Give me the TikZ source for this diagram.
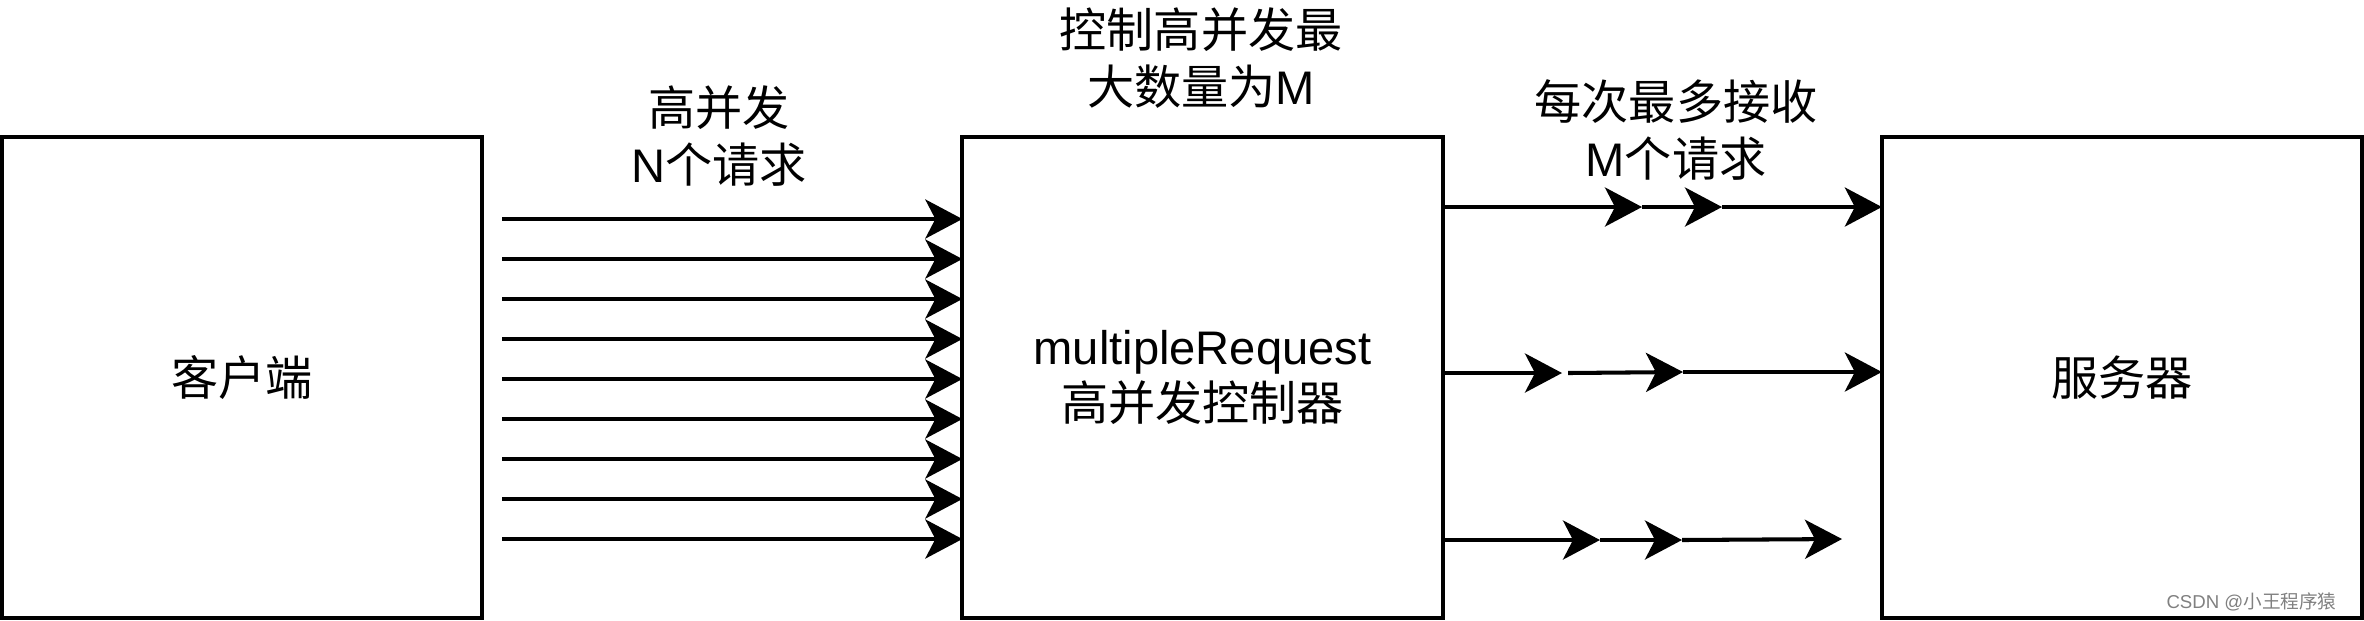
\documentclass[tikz,border=0pt]{standalone}
\usepackage{fontspec}
\setmainfont{Liberation Sans}
\newfontfamily\cjk{Noto Sans CJK SC}
\usetikzlibrary{arrows.meta}

\tikzset{
  box/.style={draw, line width=1.15pt, minimum width=4.8cm, minimum height=4.81cm, inner sep=0pt, outer sep=0pt, align=center},
  req/.style={line width=1.15pt, -{Stealth[length=0.37cm, width=0.39cm, inset=0.1cm]}},
  lbl/.style={align=center}
}

\begin{document}
\begin{tikzpicture}[x=0.01cm, y=-0.01cm, font=\fontsize{13.4pt}{16pt}\selectfont]
\useasboundingbox (0,0) rectangle (2364,620);
\node[box] (client) at (242,377.5) {\cjk 客户端};
\node[box] (ctrl) at (1202.5,377.5) {multipleRequest\\{\cjk 高并发控制器}};
\node[box] (server) at (2122,377.5) {\cjk 服务器};
\node[lbl] (reqN) at (719,136) {{\cjk 高并发}\\N{\cjk 个请求}};
\node[lbl] (limitM) at (1201,58) {{\cjk 控制高并发最}\\{\cjk 大数量为}M};
\node[lbl] (recvM) at (1676,130) {{\cjk 每次最多接收}\\M{\cjk 个请求}};
\node[anchor=east, text=gray, font=\fontsize{5.3pt}{6pt}\selectfont] (mark) at (2349,602) {CSDN @{\cjk 小王程序猿}};
\foreach \i in {0,...,8} {
  \coordinate (in\i) at (502,219+40*\i);
  \draw[req] (in\i) -- (in\i -| ctrl.west);
}
\coordinate (a1) at (1642,207);
\coordinate (a2) at (1722,207);
\draw[req] (a1 -| ctrl.east) -- (a1);
\draw[req] (a1) -- (a2);
\draw[req] (a2) -- (a2 -| server.west);
\coordinate (b1) at (1562,373);
\coordinate (b2) at (1568,373);
\coordinate (b3) at (1683,372);
\draw[req] (b1 -| ctrl.east) -- (b1);
\draw[req] (b2) -- (b3);
\draw[req] (b3) -- (b3 -| server.west);
\coordinate (c1) at (1600,540);
\coordinate (c2) at (1682,540);
\coordinate (c3) at (1842,539);
\draw[req] (c1 -| ctrl.east) -- (c1);
\draw[req] (c1) -- (c2);
\draw[req] (c2) -- (c3);
\end{tikzpicture}
\end{document}
